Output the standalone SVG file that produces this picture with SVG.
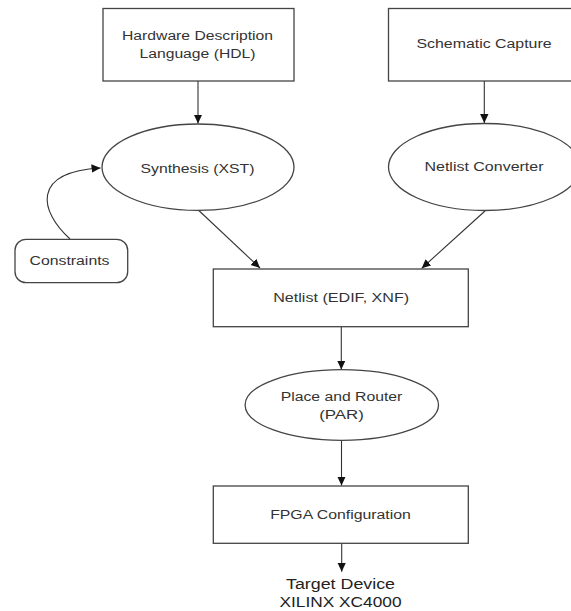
<svg xmlns="http://www.w3.org/2000/svg" width="571" height="611" viewBox="0 0 571 611">
<style>
.box{fill:#fff;stroke:#444;stroke-width:1.3}
.lbl{font-family:"Liberation Sans",Arial,sans-serif;font-size:12px;fill:#333;text-anchor:middle}
.big{font-family:"Liberation Sans",Arial,sans-serif;font-size:14px;fill:#222;text-anchor:middle}
.edge{fill:none;stroke:#333;stroke-width:1.1;marker-end:url(#ah)}
</style>
<defs>
<marker id="ah" markerUnits="userSpaceOnUse" markerWidth="10" markerHeight="10" viewBox="0 0 10 10" refX="9" refY="5" orient="auto">
<path d="M0,0.8 L9,5 L0,9.2 Z" fill="#111"/>
</marker>
</defs>
<rect width="571" height="611" fill="#fff"/>
<g id="connectors">
<line class="edge" x1="198" y1="81" x2="198" y2="123.5"/>
<line class="edge" x1="484.3" y1="81" x2="484.3" y2="123"/>
<path class="edge" d="M70,239 C40,212 30,172 100.5,168"/>
<line class="edge" x1="198.3" y1="210" x2="260" y2="268"/>
<line class="edge" x1="485" y1="211" x2="421.7" y2="268.3"/>
<line class="edge" x1="341.3" y1="327" x2="341.3" y2="369.5"/>
<line class="edge" x1="341.5" y1="440" x2="341.5" y2="485.5"/>
<line class="edge" x1="341.7" y1="543.5" x2="341.7" y2="571.7"/>
</g>
<g id="hdl">
<rect class="box" x="103" y="8.5" width="191" height="72.5"/>
<text class="lbl" x="197.5" y="39.5" textLength="151" lengthAdjust="spacingAndGlyphs">Hardware Description</text>
<text class="lbl" x="197.5" y="57.5" textLength="116" lengthAdjust="spacingAndGlyphs">Language (HDL)</text>
</g>
<g id="schematic">
<rect class="box" x="388.5" y="8.5" width="191" height="72.5"/>
<text class="lbl" x="484" y="47.8" textLength="135" lengthAdjust="spacingAndGlyphs">Schematic Capture</text>
</g>
<g id="synthesis">
<ellipse class="box" cx="198" cy="167.2" rx="96" ry="43.2"/>
<text class="lbl" x="197.5" y="172.6" textLength="114" lengthAdjust="spacingAndGlyphs">Synthesis (XST)</text>
</g>
<g id="netconv">
<ellipse class="box" cx="484.5" cy="167" rx="96" ry="43.5"/>
<text class="lbl" x="484" y="171.4" textLength="119" lengthAdjust="spacingAndGlyphs">Netlist Converter</text>
</g>
<g id="constraints">
<rect class="box" x="15" y="239.3" width="112.7" height="43.4" rx="11" ry="11"/>
<text class="lbl" x="69.5" y="265" textLength="80" lengthAdjust="spacingAndGlyphs">Constraints</text>
</g>
<g id="netlist">
<rect class="box" x="213.3" y="269" width="255" height="57.7"/>
<text class="lbl" x="341.2" y="301.6" textLength="136" lengthAdjust="spacingAndGlyphs">Netlist (EDIF, XNF)</text>
</g>
<g id="par">
<ellipse class="box" cx="341.8" cy="405" rx="96.7" ry="35.3"/>
<text class="lbl" x="341.5" y="401" textLength="121.7" lengthAdjust="spacingAndGlyphs">Place and Router</text>
<text class="lbl" x="341.5" y="419.3" textLength="44.7" lengthAdjust="spacingAndGlyphs">(PAR)</text>
</g>
<g id="fpga">
<rect class="box" x="213.3" y="486" width="255" height="57.3"/>
<text class="lbl" x="340.5" y="518.5" textLength="140.7" lengthAdjust="spacingAndGlyphs">FPGA Configuration</text>
</g>
<g id="target">
<text class="big" x="340.5" y="589" textLength="109" lengthAdjust="spacingAndGlyphs">Target Device</text>
<text class="big" x="340.5" y="607" textLength="122" lengthAdjust="spacingAndGlyphs">XILINX XC4000</text>
</g>
</svg>
